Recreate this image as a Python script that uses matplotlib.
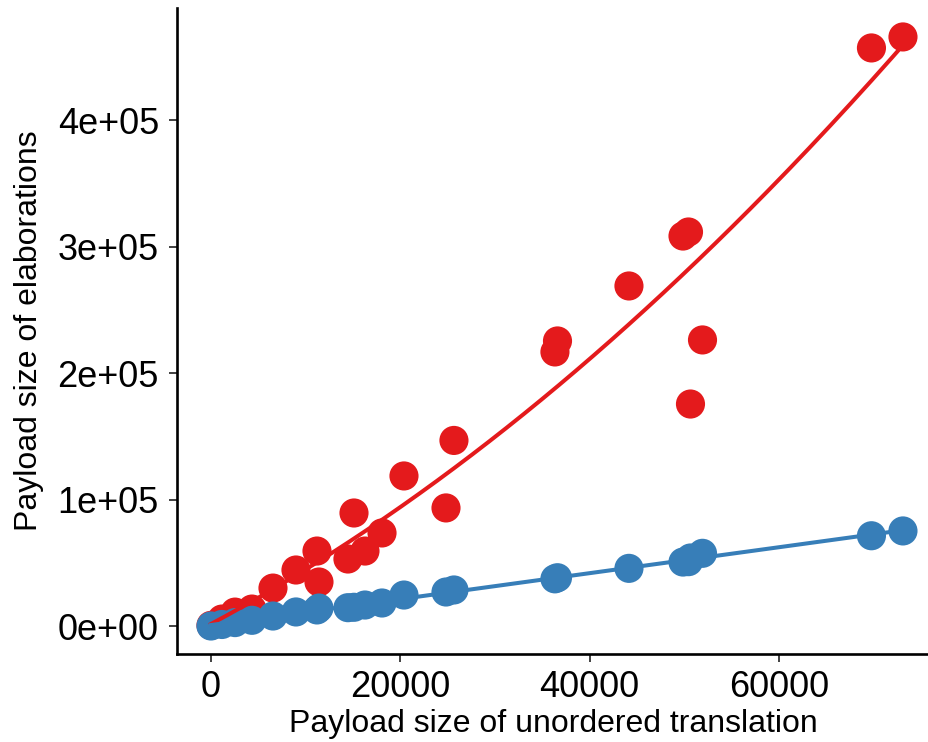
import numpy as np
import matplotlib
matplotlib.use('Agg')
import matplotlib.pyplot as plt
from matplotlib.ticker import FuncFormatter

plt.rcParams['font.family'] = ['Liberation Sans', 'DejaVu Sans']

# payload sizes
unordered = [73110, 69780, 51930, 50660, 50450, 49870, 44160, 36610, 36340,
             25670, 24830, 20390, 18070, 16270, 15110, 14470, 11410, 11200,
             8980, 6550, 4330, 2540, 1160, 0]
elaborations = [466000, 457300, 226300, 175600, 311700, 308500, 269000, 225500, 216800,
                146800, 93400, 118700, 73600, 59300, 89400, 53000, 34800, 59300,
                44300, 30000, 13400, 11000, 5500, 500]
translation = [75200, 71400, 57500, 53800, 50900, 50600, 45600, 38200, 37300,
               28500, 26900, 24500, 18200, 16600, 14800, 14500, 14200, 12700,
               11100, 7900, 4500, 2700, 1200, 0]

RED = '#E41A1C'
BLUE = '#377EB8'

x = np.array(unordered, dtype=float)
y_red = np.array(elaborations, dtype=float)
y_blue = np.array(translation, dtype=float)

fig = plt.figure(figsize=(9.29, 7.42), dpi=100)
ax = fig.add_axes([177 / 929, (742 - 654) / 742, (929 - 177) / 929, (654 - 8) / 742])

ax.scatter(x, y_red, s=440, color=RED, edgecolors='none', zorder=2)
ax.scatter(x, y_blue, s=440, color=BLUE, edgecolors='none', zorder=3)

# smoothers: quadratic for elaborations, straight line for translation
xs = np.linspace(x.min(), x.max(), 200)
red_fit = np.polyfit(x, y_red, 2)
blue_fit = np.polyfit(x, y_blue, 1)
ax.plot(xs, np.polyval(red_fit, xs), color=RED, lw=2.9, zorder=4)
ax.plot(xs, np.polyval(blue_fit, xs), color=BLUE, lw=2.9, zorder=4)

ax.set_xlim(-3590, 75860)
ax.set_ylim(-22150, 488900)
ax.set_xticks([0, 20000, 40000, 60000])
ax.set_yticks([0, 100000, 200000, 300000, 400000])
ax.yaxis.set_major_formatter(FuncFormatter(lambda v, p: f'{v:.0e}'))

for side in ['top', 'right']:
    ax.spines[side].set_visible(False)
for side in ['left', 'bottom']:
    ax.spines[side].set_linewidth(1.9)
    ax.spines[side].set_color('black')

ax.tick_params(axis='both', length=5.5, width=1.3, color='#333333',
               labelsize=26, labelcolor='black')
ax.tick_params(axis='y', pad=7.5)
ax.tick_params(axis='x', pad=6)

ax.set_xlabel('Payload size of unordered translation', fontsize=23, labelpad=3)
ax.set_ylabel('Payload size of elaborations', fontsize=23, labelpad=10)

fig.savefig('out.png', dpi=100)
